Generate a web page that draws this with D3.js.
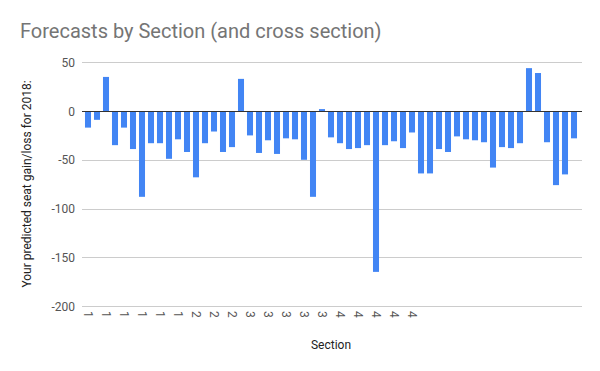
<!DOCTYPE html>
<html>
<head>
<meta charset="utf-8">
<script src="https://cdn.jsdelivr.net/npm/d3@7"></script>
<style>
  body { margin: 0; background: #fff; }
  text { font-family: Roboto, Arial, sans-serif; }
</style>
</head>
<body>
<svg id="chart"></svg>
<script>
var titre = "Forecasts by Section (and cross section)";
var yTitle = "Your predicted seat gain/loss for 2018:";
var xTitle = "Section";

// section label of each response (blank after the first 37)
var sections = ["1","1","1","1","1","1","1","1","1","1","1","1",
  "2","2","2","2","2","2",
  "3","3","3","3","3","3","3","3","3","3",
  "4","4","4","4","4","4","4","4","4",
  "","","","","","","","","","","","","","","","","",""];

var forecasts = [-17, -9, 35, -35, -17, -39, -88, -33, -33, -49,
  -29, -42, -68, -33, -21, -42, -37, 33, -25, -43,
  -30, -44, -28, -29, -50, -88, 2, -27, -33, -39,
  -38, -35, -165, -35, -31, -38, -22, -64, -64, -39,
  -42, -26, -29, -30, -32, -58, -37, -38, -33, 44,
  39, -32, -76, -65, -28];

var yTicks = [50, 0, -50, -100, -150, -200];

var width = 600, height = 371;
var plotLeft = 82, plotRight = 582, plotTop = 62.3, plotBottom = 306;

var svg = d3.select("#chart")
  .attr("width", width)
  .attr("height", height);

var idx = d3.range(forecasts.length);

var x = d3.scaleBand()
  .domain(idx)
  .range([83.5, 578.5])
  .paddingInner(0.33)
  .paddingOuter(0.165);

var y = d3.scaleLinear()
  .domain([-200, 50])
  .range([plotBottom, plotTop]);

// gridlines
svg.selectAll(".grid")
  .data(yTicks.filter(function (d) { return d != 0; }))
  .enter()
  .append("line")
  .attr("x1", plotLeft)
  .attr("x2", plotRight)
  .attr("y1", function (d) { return Math.round(y(d)) + 0.5; })
  .attr("y2", function (d) { return Math.round(y(d)) + 0.5; })
  .attr("stroke", "#cccccc")
  .attr("stroke-width", 1);

// y tick labels
svg.selectAll(".ylab")
  .data(yTicks)
  .enter()
  .append("text")
  .attr("x", 75)
  .attr("y", function (d) { return y(d) + 4.5; })
  .attr("text-anchor", "end")
  .style("font-size", "12px")
  .attr("fill", "#555555")
  .text(function (d) { return d; });

// bars
svg.selectAll(".bar")
  .data(forecasts)
  .enter()
  .append("rect")
  .attr("x", function (d, i) { return x(i); })
  .attr("width", x.bandwidth())
  .attr("y", function (d) { return y(Math.max(0, d)); })
  .attr("height", function (d) { return Math.abs(y(d) - y(0)); })
  .attr("fill", "#4285f4");

// baseline
svg.append("line")
  .attr("x1", plotLeft)
  .attr("x2", plotRight)
  .attr("y1", Math.round(y(0)) + 0.5)
  .attr("y2", Math.round(y(0)) + 0.5)
  .attr("stroke", "#333333")
  .attr("stroke-width", 1);

// x labels, every other category, rotated
svg.selectAll(".xlab")
  .data(idx.filter(function (i) { return i % 2 == 0 && sections[i] != ""; }))
  .enter()
  .append("text")
  .attr("transform", function (i) {
    return "translate(" + (x(i) + x.bandwidth() / 2 - 4) + "," + 311 + ") rotate(90)";
  })
  .attr("text-anchor", "start")
  .style("font-size", "12px")
  .attr("fill", "#555555")
  .text(function (i) { return sections[i]; });

// titles
svg.append("text")
  .attr("x", 20)
  .attr("y", 38)
  .style("font-size", "20px")
  .attr("fill", "#757575")
  .text(titre);

svg.append("text")
  .attr("transform", "translate(31,184) rotate(-90)")
  .attr("text-anchor", "middle")
  .style("font-size", "12px")
  .attr("fill", "#222222")
  .text(yTitle);

svg.append("text")
  .attr("x", 331)
  .attr("y", 349)
  .attr("text-anchor", "middle")
  .style("font-size", "12px")
  .attr("fill", "#222222")
  .text(xTitle);
</script>
</body>
</html>
